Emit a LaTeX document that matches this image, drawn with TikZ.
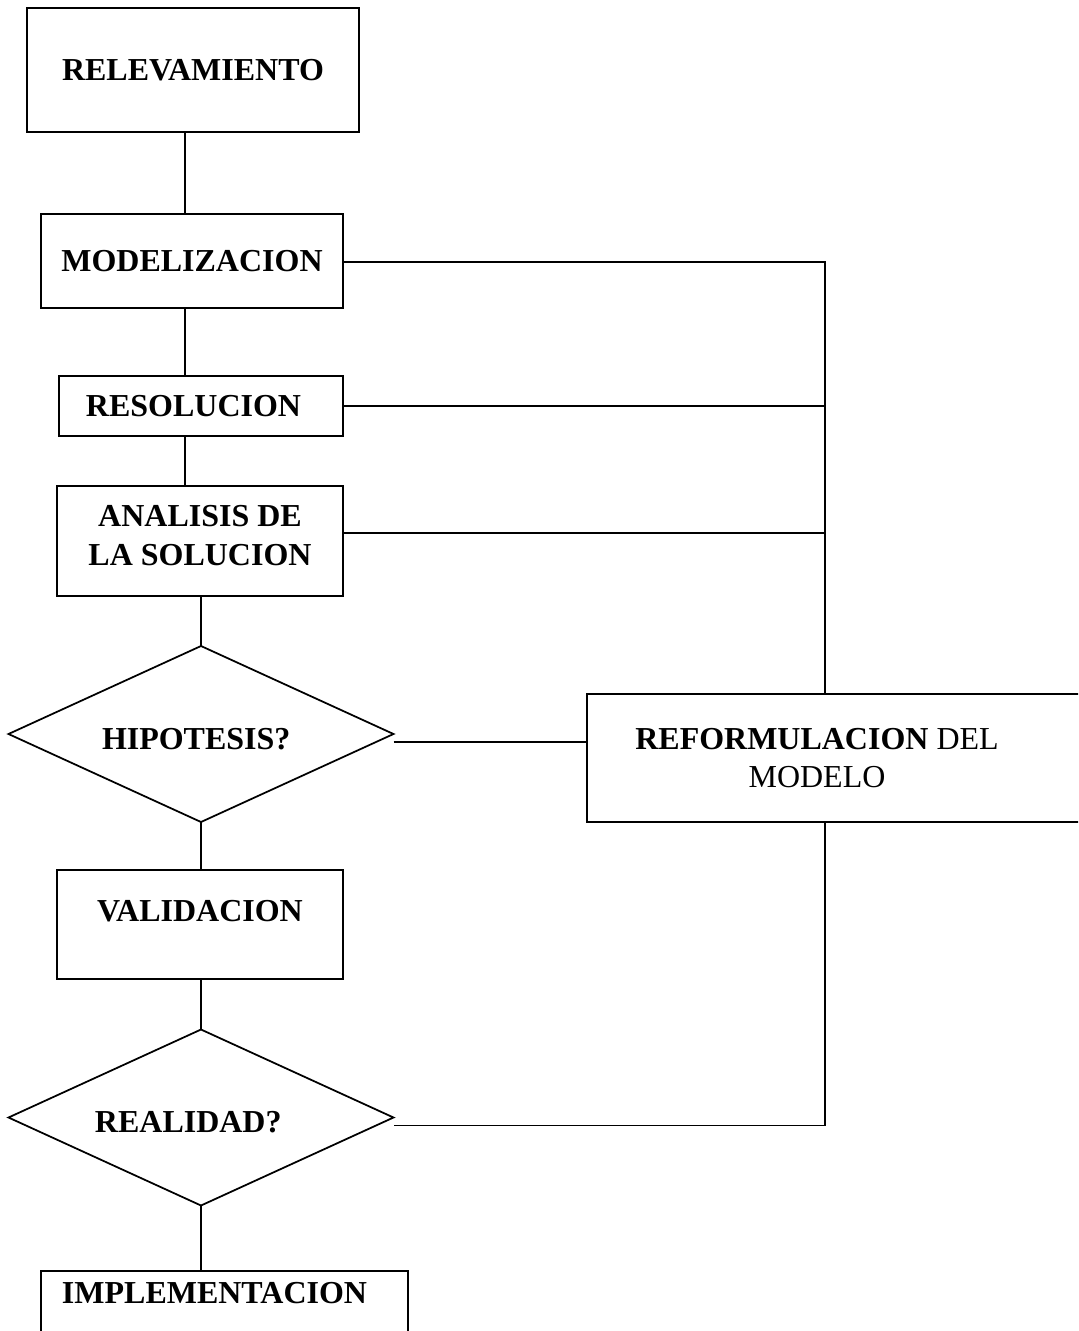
\documentclass[tikz,border=0pt]{standalone}
\usepackage{fontspec}
\setmainfont{Liberation Serif}
\usetikzlibrary{shapes.geometric}

\begin{document}
\begin{tikzpicture}[x=0.2mm,y=-0.2mm,line width=0.35mm,
  every node/.style={font=\fontsize{18.2}{21.8}\selectfont\bfseries,inner sep=0pt,outer sep=0pt},
  caja/.style={draw,rectangle,align=center},
  rombo/.style={draw,diamond,aspect=2.19,minimum width=77mm,minimum height=35.2mm,
    align=left,text height=6.2mm}]
\useasboundingbox (0,0) rectangle (1078,1331);
\clip (0,0) rectangle (1078,1331);
% pasos
\node[caja,minimum width=66.4mm,minimum height=24.8mm] (relev) at (193,70) {RELEVAMIENTO};
\node[caja,minimum width=60.4mm,minimum height=18.8mm] (model) at (192,261) {MODELIZACION};
\node[caja,minimum width=56.8mm,minimum height=12mm,align=left,text width=46mm,inner xsep=5.4mm] (resol) at (201,406) {RESOLUCION};
\node[caja,minimum width=57.2mm,minimum height=22mm,text depth=2.2mm] (ana) at (200,541) {ANALISIS DE\\LA SOLUCION};
\node[rombo,text width=39.6mm] (hip) at (201,734) {HIPOTESIS?};
\node[caja,minimum width=57.2mm,minimum height=21.8mm,text depth=5.4mm] (valid) at (200,924.5) {VALIDACION};
\node[rombo,text width=42.4mm] (real) at (201,1117.5) {REALIDAD?};
\node[caja,anchor=north,minimum width=73.4mm,minimum height=26mm,text depth=17.4mm,
  align=left,text width=65mm,inner xsep=4.2mm] (impl) at (224.5,1271) {IMPLEMENTACION};
\node[align=center,minimum width=92mm,minimum height=25.6mm] (reform) at (817,758) {REFORMULACION {\mdseries DEL}\\\mdseries MODELO};
\draw (reform.north west) rectangle ++(600,128);
% lineas
\coordinate (eje) at (185,0);
\coordinate (giro) at (825,262);
\draw (relev.south -| eje) -- (model.north -| eje);
\draw (model.south -| eje) -- (resol.north -| eje);
\draw (resol.south -| eje) -- (ana.north -| eje);
\draw (ana.south -| hip.north) -- (hip.north);
\draw (hip.south) -- (valid.north -| hip.south);
\draw (valid.south -| real.north) -- (real.north);
\draw (real.south) -- (real.south |- impl.north);
% retornos
\draw (model.east |- giro) -- (giro) -- (giro |- reform.north);
\draw (resol.east) -- (resol.east -| giro);
\coordinate (anasal) at ([yshift=1.6mm]ana.east);
\draw (anasal) -- (anasal -| giro);
\coordinate (hipsal) at ([yshift=-1.6mm]hip.east);
\draw (hipsal) -- (hipsal -| reform.west);
\coordinate (realsal) at ([yshift=-1.6mm]real.east);
\draw (giro |- reform.south) -- (giro |- realsal) -- (realsal);
\end{tikzpicture}
\end{document}
